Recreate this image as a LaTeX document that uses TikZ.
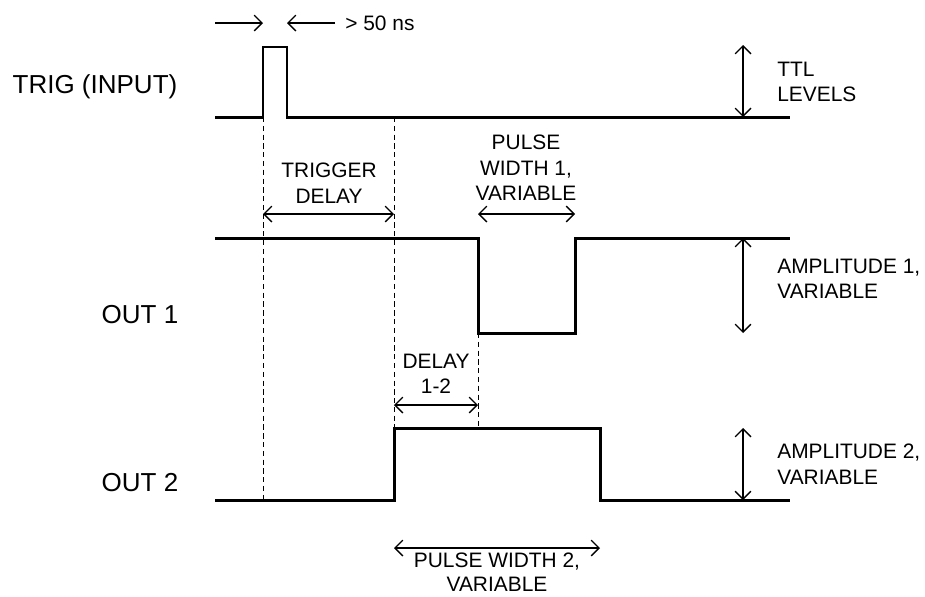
\documentclass[tikz,border=0pt]{standalone}
\usepackage{fontspec}
\setmainfont{Liberation Sans}
\usetikzlibrary{arrows.meta}
\tikzset{
    wave/.style={black, line width=1.7pt, line join=miter},
    dim/.style={{Straight Barb[length=4.5pt,width=9pt]}-{Straight Barb[length=4.5pt,width=9pt]}, black, line width=0.75pt},
    barb/.style={-{Straight Barb[length=4.5pt,width=9pt]}, black, line width=0.75pt},
    guide/.style={black, line width=0.45pt, dash pattern=on 3pt off 2pt},
    small/.style={font=\fontsize{11.9}{14.5}\selectfont, align=center, inner sep=0pt},
    big/.style={font=\fontsize{14.8}{18}\selectfont, inner sep=0pt},
}
\begin{document}
\begin{tikzpicture}[x=0.02cm, y=-0.02cm]
    \useasboundingbox (0,0) rectangle (925,596);

    % waveform corners
    \coordinate (t0) at (215,117);
    \coordinate (t1) at (263,117);
    \coordinate (t2) at (263,47);
    \coordinate (t3) at (287,47);
    \coordinate (t4) at (287,117);
    \coordinate (t5) at (790,117);
    \coordinate (a0) at (215,238);
    \coordinate (a1) at (478,238);
    \coordinate (a2) at (478,333);
    \coordinate (a3) at (575,333);
    \coordinate (a4) at (575,238);
    \coordinate (a5) at (790,238);
    \coordinate (b0) at (215,500);
    \coordinate (b1) at (394,500);
    \coordinate (b2) at (394,428);
    \coordinate (b3) at (600,428);
    \coordinate (b4) at (600,500);
    \coordinate (b5) at (790,500);

    \draw[wave] (t0) -- (t1) -- (t2) -- (t3) -- (t4) -- (t5);
    \draw[wave] (a0) -- (a1) -- (a2) -- (a3) -- (a4) -- (a5);
    \draw[wave] (b0) -- (b1) -- (b2) -- (b3) -- (b4) -- (b5);

    % dashed guides
    \coordinate (g1) at (263,500);
    \coordinate (g2) at (394,117);
    \coordinate (g3) at (478,428);
    \draw[guide] (t1) -- (g1);
    \draw[guide] (g2) -- (b2);
    \draw[guide] (a2) -- (g3);

    % dimension ends
    \coordinate (w0) at (215,23);
    \coordinate (w1) at (263,23);
    \coordinate (w2) at (287,23);
    \coordinate (w3) at (335,23);
    \coordinate (d0) at (263,214);
    \coordinate (d1) at (394,214);
    \coordinate (p0) at (478,214);
    \coordinate (p1) at (575,214);
    \coordinate (e0) at (394,405);
    \coordinate (e1) at (478,405);
    \coordinate (q0) at (394,548);
    \coordinate (q1) at (600,548);
    \coordinate (v0) at (743,45);
    \coordinate (v1) at (743,117);
    \coordinate (v2) at (743,238);
    \coordinate (v3) at (743,333);
    \coordinate (v4) at (743,428);
    \coordinate (v5) at (743,500);

    \path
    (w0) edge [barb] (w1)
    (w3) edge [barb] (w2)
    (d0) edge [dim] (d1)
    (p0) edge [dim] (p1)
    (e0) edge [dim] (e1)
    (q0) edge [dim] (q1)
    (v0) edge [dim] (v1)
    (v2) edge [dim] (v3)
    (v4) edge [dim] (v5);

    % labels
    \node[big] (trig) at (95,87) {TRIG (INPUT)};
    \node[big] (out1) at (140,315) {OUT 1};
    \node[big] (out2) at (140,483) {OUT 2};
    \node[small, anchor=west] (ns) at (345,23) {> 50 ns};
    \node[small] (tdelay) at (329,183) {TRIGGER\\DELAY};
    \node[small] (pw1) at (526,168) {PULSE\\WIDTH 1,\\VARIABLE};
    \node[small] (d12) at (436,374) {DELAY\\1-2};
    \node[small, font=\fontsize{11.9}{13.5}\selectfont] (pw2) at (497,572) {PULSE WIDTH 2,\\VARIABLE};
    \node[small, anchor=west, align=left] (ttl) at (777,82) {TTL\\LEVELS};
    \node[small, anchor=west, align=left] (amp1) at (777,279) {AMPLITUDE 1,\\VARIABLE};
    \node[small, anchor=west, align=left] (amp2) at (777,464) {AMPLITUDE 2,\\VARIABLE};
\end{tikzpicture}
\end{document}
